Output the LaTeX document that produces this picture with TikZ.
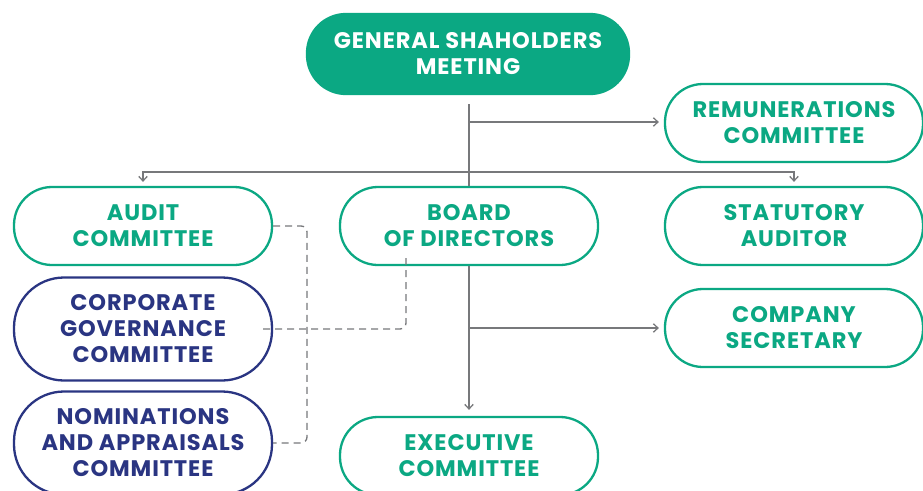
\documentclass[tikz,border=0pt]{standalone}
\usepackage{fontspec}
\setmainfont{Poppins}[LetterSpace=4]
\usetikzlibrary{arrows.meta,positioning,calc}
\definecolor{grn}{HTML}{0BA883}
\definecolor{navy}{HTML}{2A3582}
\definecolor{inkg}{HTML}{77787B}
\tikzset{
  box/.style={rectangle, rounded corners=38pt, draw=grn, fill=white, line width=2.3pt,
              align=center, inner sep=0pt, minimum width=258pt, minimum height=78pt,
              text=grn, font=\bfseries\fontsize{22.5}{26}\selectfont},
  boxnavy/.style={box, draw=navy, text=navy, minimum height=103pt, rounded corners=50pt},
  boxtop/.style={box, draw=grn, fill=grn, text=white, minimum width=322pt, minimum height=80pt,
                 rounded corners=39pt},
  fl/.style={-{Straight Barb[length=1.6mm,width=3mm]}, line width=1.3pt, draw=inkg},
  ln/.style={line width=1.3pt, draw=inkg},
  dl/.style={line width=1.3pt, draw=inkg, dash pattern=on 7pt off 5pt, rounded corners=6pt},
}
\begin{document}
\begin{tikzpicture}[x=1pt,y=-1pt]
  \useasboundingbox (0,0) rectangle (923,490);
  \node[boxtop] (gsm) at (468,54) {GENERAL SHAHOLDERS\\MEETING};
  \node[box] (remun) at (794,123) {REMUNERATIONS\\COMMITTEE};
  \node[box] (audit) at (143,226) {AUDIT\\COMMITTEE};
  \node[box] (board) at (469,226) {BOARD\\OF DIRECTORS};
  \node[box] (statut) at (794,226) {STATUTORY\\AUDITOR};
  \node[boxnavy] (corpgov) at (143,329) {CORPORATE\\GOVERNANCE\\COMMITTEE};
  \node[box] (cosec) at (794,328) {COMPANY\\SECRETARY};
  \node[boxnavy] (nomin) at (143,443) {NOMINATIONS\\AND APPRAISALS\\COMMITTEE};
  \node[box] (exec) at (469,456) {EXECUTIVE\\COMMITTEE};
  % junctions
  \coordinate (top) at ($(gsm.south)+(1,9)$);
  \coordinate (j1) at (469,122);
  \coordinate (j2) at (469,172);
  \coordinate (j3) at (469,328);
  \coordinate (bd) at ($(board.south)+(-63,-10)$);
  \coordinate (d1) at (307,226);
  \draw[ln] (top)--(board.north);
  \draw[fl,shorten >=5pt] (j1)--(remun.west |- j1);
  \draw[fl,shorten >=4pt] (j2)-|(audit);
  \draw[fl,shorten >=4pt] (j2)-|(statut);
  \draw[fl,shorten >=6pt] (board)--(exec);
  \draw[fl,shorten >=5pt] (j3)--(cosec.west |- j3);
  % dashed links
  \draw[dl] (audit.east)--(d1)--(d1 |- nomin.east)--(nomin.east);
  \draw[dl] ($(corpgov.east)+(-10,0)$)--(bd |- corpgov.east)--(bd);
\end{tikzpicture}
\end{document}
